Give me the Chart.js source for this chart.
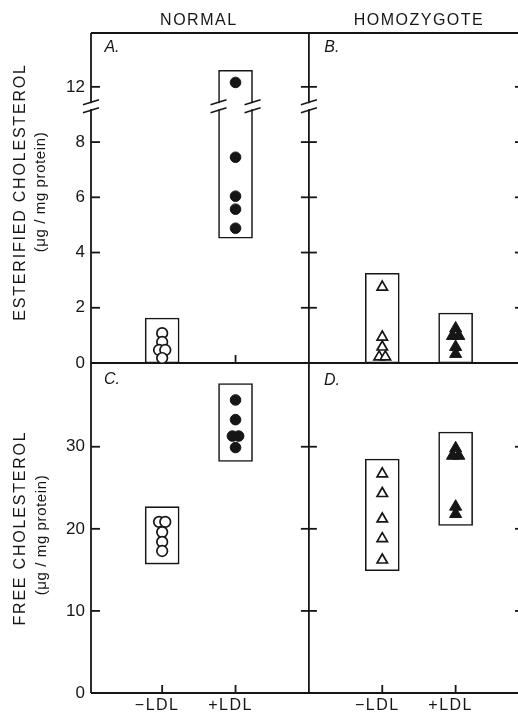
<!DOCTYPE html>
<html>
<head>
<meta charset="utf-8">
<script src="https://cdn.jsdelivr.net/npm/chart.js@4.4.1/dist/chart.umd.min.js"></script>
<style>
  html, body { margin: 0; padding: 0; background: #fff; overflow: hidden; }
  #wrap { width: 518px; height: 714px; overflow: hidden; }
</style>
</head>
<body>
<div id="wrap"><canvas id="myChart" width="540" height="714"></canvas></div>
<script>
const categories = ['−LDL', '+LDL'];
const normalX = [1, 2];
const homozygoteX = [4, 5];

// esterified cholesterol, µg/mg protein (panels A, B)
const estTicks = [0, 2, 4, 6, 8, 12];
const estNormalMinus = [1.08, 0.76, 0.47, 0.47, 0.18];
const estNormalPlus = [12.16, 7.45, 6.04, 5.57, 4.88];
const estHomoMinus = [2.75, 0.94, 0.58, 0.22, 0.22];
const estHomoPlus = [1.25, 0.98, 0.98, 0.58, 0.33];
const estBoxLow = [0, 4.52, 0, 0];
const estBoxHigh = [1.63, 12.6, 3.25, 1.81];

// free cholesterol, µg/mg protein (panels C, D)
const freeTicks = [0, 10, 20, 30];
const freeNormalMinus = [20.85, 20.85, 19.6, 18.4, 17.3];
const freeNormalPlus = [35.7, 33.3, 31.3, 31.3, 29.9];
const freeHomoMinus = [26.7, 24.3, 21.2, 18.8, 16.2];
const freeHomoPlus = [29.8, 28.9, 28.9, 22.7, 21.8];
const freeBoxLow = [15.7, 28.2, 14.9, 20.4];
const freeBoxHigh = [22.7, 37.7, 28.5, 31.8];

const ink = '#161616';
const family = '"Liberation Sans", Arial, sans-serif';

// the esterified axis is cut between 8 and 12
const cutAt = 10;
const cutSkip = 2;
const cutMark = 9.3;
function brk(v) {
    return v > cutAt ? v - cutSkip : v;
}
const same = v => v;

// equal values side by side, like the original
function toPoints(values, cx, fn) {
    return values.map((v, i) => {
        const twins = values.map((w, j) => j).filter(j => values[j] === v);
        const k = twins.indexOf(i);
        const dx = (k - (twins.length - 1) / 2) * 0.085;
        return { x: cx + dx, y: fn(v) };
    });
}

function boxes(low, high, yAxisID, fn) {
    const xs = normalX.concat(homozygoteX);
    return {
        type: 'bar',
        yAxisID: yAxisID,
        order: 2,
        grouped: false,
        data: xs.map((x, i) => ({ x: x, y: [fn(low[i]), fn(high[i])] })),
        backgroundColor: '#fff',
        borderColor: ink,
        borderWidth: 1.6,
        borderSkipped: false,
        barThickness: 34
    };
}

function marks(values, cx, yAxisID, style, filled, fn) {
    return {
        type: 'scatter',
        yAxisID: yAxisID,
        order: 1,
        data: toPoints(values, cx, fn),
        pointStyle: style,
        pointRadius: style === 'triangle' ? (filled ? 7 : 6) : 5.3,
        pointBackgroundColor: filled ? ink : '#fff',
        pointBorderColor: ink,
        pointBorderWidth: filled ? 1 : 1.7,
        showLine: false
    };
}

const panelFrame = {
    id: 'panelFrame',
    beforeDatasetsDraw(chart) {
        const { ctx, chartArea: a, scales: { x, yE, yF } } = chart;
        const xMid = x.getPixelForValue(3);
        const line = (x1, y1, x2, y2) => {
            ctx.beginPath(); ctx.moveTo(x1, y1); ctx.lineTo(x2, y2); ctx.stroke();
        };
        ctx.save();
        ctx.strokeStyle = ink;
        ctx.lineWidth = 1.8;
        line(a.left, a.top, a.right, a.top);
        line(a.left, yE.bottom, a.right, yE.bottom);
        line(a.left, a.bottom, a.right, a.bottom);
        [a.left, xMid, a.right].forEach(px => line(px, a.top, px, a.bottom));
        [yE, yF].forEach(s => s.ticks.forEach(t => {
            const py = s.getPixelForValue(t.value);
            line(a.left, py, a.left + 9, py);
            line(xMid - 8, py, xMid + 8, py);
            line(a.right - 14, py, a.right, py);
        }));
        normalX.concat(homozygoteX).forEach(v => {
            const px = x.getPixelForValue(v);
            line(px, yE.bottom - 8, px, yE.bottom);
            line(px, a.bottom - 8, px, a.bottom);
        });
        ctx.restore();
    },
    afterDatasetsDraw(chart) {
        const { ctx, chartArea: a, scales: { x, yE } } = chart;
        const yb = yE.getPixelForValue(cutMark);
        const box = chart.getDatasetMeta(0).data[1];
        const xs = [a.left, x.getPixelForValue(3), a.right, box.x - box.width / 2, box.x + box.width / 2];
        ctx.save();
        xs.forEach(px => {
            ctx.fillStyle = '#fff';
            ctx.fillRect(px - 2.5, yb - 3, 5, 6);
            ctx.strokeStyle = ink;
            ctx.lineWidth = 1.6;
            [-4, 4].forEach(d => {
                ctx.beginPath();
                ctx.moveTo(px - 8, yb + d + 2.5);
                ctx.lineTo(px + 8, yb + d - 2.5);
                ctx.stroke();
            });
        });
        ctx.restore();
        // spacing for the x tick labels, drawn right after this
        ctx.letterSpacing = '1.5px';
    },
    afterDraw(chart) {
        const { ctx, chartArea: a, scales: { x, yE } } = chart;
        const xMid = x.getPixelForValue(3);
        ctx.letterSpacing = '0px';
        const text = (s, px, py, font, spacing, rot) => {
            ctx.save();
            ctx.translate(px, py);
            if (rot) ctx.rotate(-Math.PI / 2);
            ctx.font = font;
            ctx.letterSpacing = spacing;
            ctx.fillStyle = ink;
            ctx.textAlign = 'center';
            ctx.textBaseline = 'middle';
            ctx.fillText(s, 0, 0);
            ctx.restore();
        };
        const big = '16px ' + family;
        const unit = '15px ' + family;
        const letter = 'italic 16px ' + family;
        text('NORMAL', x.getPixelForValue(1.5), 21, big, '1.5px');
        text('HOMOZYGOTE', x.getPixelForValue(4.5), 21, big, '1.5px');
        text('A.', a.left + 21, a.top + 15, letter, '0px');
        text('B.', xMid + 23, a.top + 15, letter, '0px');
        text('C.', a.left + 21, yE.bottom + 17, letter, '0px');
        text('D.', xMid + 23, yE.bottom + 18, letter, '0px');
        text('ESTERIFIED CHOLESTEROL', 21, 192, big, '1.8px', true);
        text('(μg / mg protein)', 41, 192, unit, '0.6px', true);
        text('FREE CHOLESTEROL', 21, 528, big, '1.8px', true);
        text('(μg / mg protein)', 42, 535, unit, '0.6px', true);
    }
};

function yScale(min, max, ticks, weight, fn) {
    return {
        type: 'linear',
        position: 'left',
        stack: 'panels',
        stackWeight: 1,
        weight: weight,
        min: min,
        max: max,
        grid: { display: false, drawTicks: false },
        border: { display: false },
        afterBuildTicks: s => { s.ticks = ticks.map(v => ({ value: fn(v) })); },
        afterFit: s => { s.width = 91; },
        ticks: {
            padding: 6,
            color: ink,
            font: { family: family, size: 17 },
            callback: (v, i) => String(ticks[i])
        }
    };
}

function renderChart() {
    const ctx = document.getElementById('myChart');

    const data = {
        datasets: [
            boxes(estBoxLow, estBoxHigh, 'yE', brk),
            boxes(freeBoxLow, freeBoxHigh, 'yF', same),
            marks(estNormalMinus, normalX[0], 'yE', 'circle', false, brk),
            marks(estNormalPlus, normalX[1], 'yE', 'circle', true, brk),
            marks(estHomoMinus, homozygoteX[0], 'yE', 'triangle', false, brk),
            marks(estHomoPlus, homozygoteX[1], 'yE', 'triangle', true, brk),
            marks(freeNormalMinus, normalX[0], 'yF', 'circle', false, same),
            marks(freeNormalPlus, normalX[1], 'yF', 'circle', true, same),
            marks(freeHomoMinus, homozygoteX[0], 'yF', 'triangle', false, same),
            marks(freeHomoPlus, homozygoteX[1], 'yF', 'triangle', true, same)
        ]
    };

    const config = {
        type: 'scatter',
        data: data,
        plugins: [panelFrame],
        options: {
            responsive: false,
            animation: false,
            devicePixelRatio: 1,
            events: [],
            layout: { padding: { top: 33, right: 11, left: 0, bottom: 0 } },
            plugins: {
                legend: { display: false },
                tooltip: { enabled: false }
            },
            scales: {
                x: {
                    type: 'linear',
                    min: 0.03,
                    max: 6,
                    offset: false,
                    grid: { display: false, drawTicks: false, offset: false },
                    border: { display: false },
                    afterBuildTicks: s => { s.ticks = normalX.concat(homozygoteX).map(v => ({ value: v })); },
                    afterFit: s => { s.height = 21; },
                    ticks: {
                        z: 1,
                        autoSkip: false,
                        maxRotation: 0,
                        padding: 3,
                        labelOffset: -5,
                        color: ink,
                        font: { family: family, size: 16 },
                        callback: (v, i) => categories[i % 2]
                    }
                },
                yE: yScale(0, 11.95, estTicks, 1, brk),
                yF: yScale(0, 40.2, freeTicks, 0, same)
            }
        }
    };

    new Chart(ctx, config);
}

renderChart();
</script>
</body>
</html>
